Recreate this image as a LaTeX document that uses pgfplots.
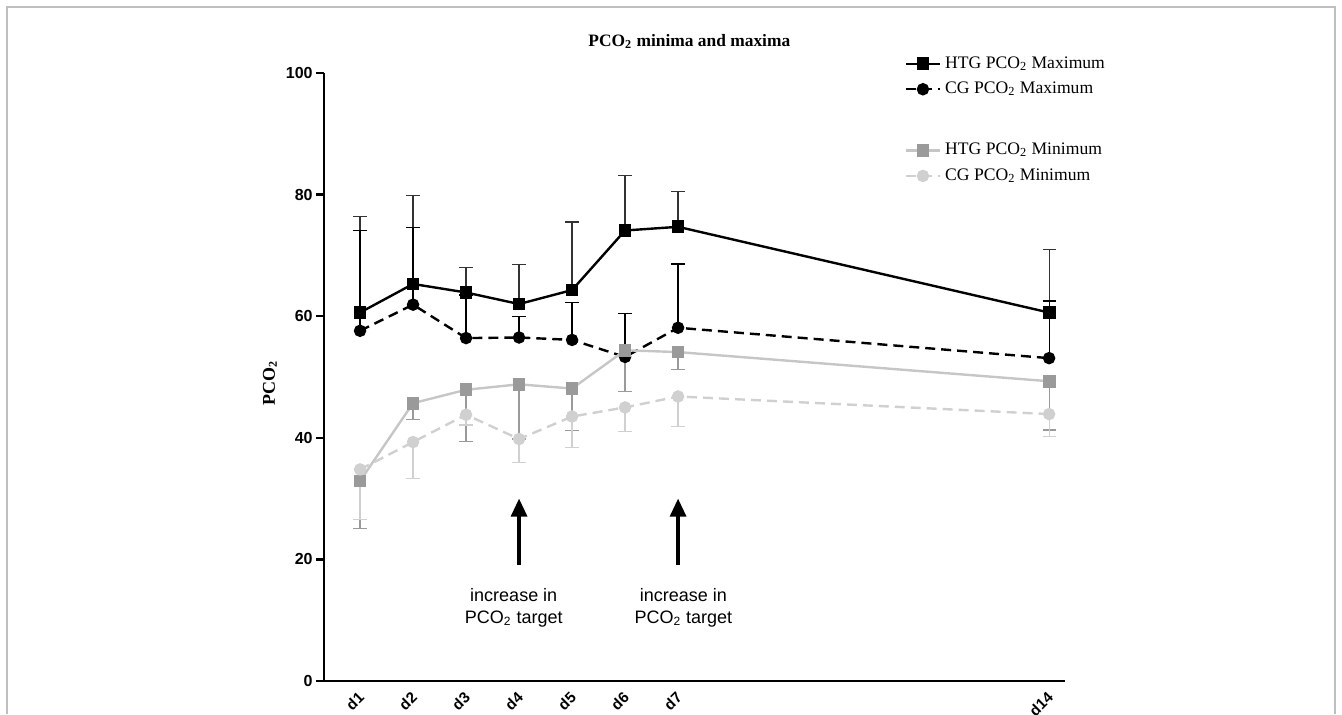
\documentclass[border=0pt]{standalone}
\usepackage{fontspec}
\setmainfont{Liberation Serif}
\setsansfont{Liberation Sans}
\usepackage{pgfplots}
\pgfplotsset{compat=1.18}
\usetikzlibrary{arrows.meta}
\definecolor{minhtg}{HTML}{9A9A9A}
\definecolor{minhtgline}{HTML}{C6C6C6}
\definecolor{mincg}{HTML}{D0D0D0}
\begin{document}
\begin{tikzpicture}
\useasboundingbox (0,0) rectangle (671pt,357pt);
\draw[gray!50, line width=0.6pt] (3.5pt,0) -- (3.5pt,353.5pt) -- (667.5pt,353.5pt) -- (667.5pt,0);
\begin{axis}[
    at={(162pt,16.5pt)}, anchor=south west,
    width=370.5pt, height=304pt, scale only axis,
    xmin=0.32, xmax=14.3, ymin=0, ymax=100,
    axis lines=left,
    axis line style={line width=1.4pt, -},
    clip=false,
    xtick={1,2,3,4,5,6,7,14},
    xticklabels={d1,d2,d3,d4,d5,d6,d7,d14},
    xtick style={draw=none},
    ytick={0,20,40,60,80,100},
    ytick style={line width=1.2pt, black},
    tick align=outside,
    major tick length=4pt,
    /pgf/number format/assume math mode=true,
    ticklabel style={font=\sffamily\bfseries\fontsize{8}{9}\selectfont},
    xticklabel style={rotate=45, anchor=north east, inner sep=0.5pt,
        font=\sffamily\bfseries\fontsize{7.6}{9}\selectfont, xshift=-1pt, yshift=1pt},
    yticklabel style={inner sep=1.5pt},
    legend style={at={(rel axis cs:0.775,1.041)}, anchor=north west,
        draw=none, fill=none, font=\fontsize{8.8}{10}\selectfont,
        row sep=1.4pt},
    legend cell align=left,
]
\addplot[black, line width=1.2pt, mark=square*, mark size=2.6pt,
    error bars/.cd, y dir=plus, y explicit,
    error bar style={line width=0.6pt, black!80},
    error mark options={rotate=90, mark size=3.3pt, line width=0.6pt, black!80}]
coordinates {
    (1,60.6) +- (0,15.8)
    (2,65.3) +- (0,14.5)
    (3,63.9) +- (0,4.1)
    (4,62.0) +- (0,6.5)
    (5,64.3) +- (0,11.2)
    (6,74.1) +- (0,9.0)
    (7,74.7) +- (0,5.8)
    (14,60.6) +- (0,10.4)
};
\addlegendentry{HTG PCO\textsubscript{2} Maximum}
\addplot[black, line width=1.2pt, dash pattern=on 5pt off 3pt,
    mark=*, mark size=2.5pt, mark options={solid},
    error bars/.cd, y dir=plus, y explicit,
    error bar style={line width=0.6pt, solid, black},
    error mark options={rotate=90, mark size=3.3pt, line width=0.6pt, solid, black}]
coordinates {
    (1,57.6) +- (0,16.5)
    (2,61.9) +- (0,12.7)
    (3,56.4) +- (0,7.1)
    (4,56.5) +- (0,3.5)
    (5,56.1) +- (0,6.2)
    (6,53.3) +- (0,7.1)
    (7,58.1) +- (0,10.5)
    (14,53.1) +- (0,9.4)
};
\addlegendentry{CG PCO\textsubscript{2} Maximum}
\addlegendimage{empty legend}
\addlegendentry{\rule{0pt}{11pt}}
\addplot[minhtgline, line width=1.2pt, mark=square*, mark size=2.6pt,
    mark options={fill=minhtg, draw=minhtg},
    error bars/.cd, y dir=minus, y explicit,
    error bar style={line width=0.6pt, minhtg},
    error mark options={rotate=90, mark size=3.3pt, line width=0.6pt, minhtg}]
coordinates {
    (1,32.9) +- (0,7.8)
    (2,45.7) +- (0,2.7)
    (3,47.9) +- (0,8.5)
    (4,48.8) +- (0,9.0)
    (5,48.1) +- (0,6.9)
    (6,54.4) +- (0,6.8)
    (7,54.1) +- (0,2.8)
    (14,49.3) +- (0,8.0)
};
\addlegendentry{HTG PCO\textsubscript{2} Minimum}
\addplot[mincg, line width=1.2pt, dash pattern=on 5pt off 3pt,
    mark=*, mark size=2.5pt, mark options={solid, fill=mincg, draw=mincg},
    error bars/.cd, y dir=minus, y explicit,
    error bar style={line width=0.6pt, solid, mincg},
    error mark options={rotate=90, mark size=3.3pt, line width=0.6pt, solid, mincg}]
coordinates {
    (1,34.8) +- (0,8.2)
    (2,39.3) +- (0,6.0)
    (3,43.8) +- (0,1.7)
    (4,39.8) +- (0,3.9)
    (5,43.5) +- (0,5.1)
    (6,45.0) +- (0,3.9)
    (7,46.8) +- (0,5.0)
    (14,43.9) +- (0,3.7)
};
\addlegendentry{CG PCO\textsubscript{2} Minimum}
\draw[-{Triangle[length=9pt,width=8pt]}, line width=1.6pt] (axis cs:4,19.1) -- (axis cs:4,30);
\draw[-{Triangle[length=9pt,width=8pt]}, line width=1.6pt] (axis cs:7,19.1) -- (axis cs:7,30);
\node[font=\sffamily\fontsize{9}{11}\selectfont, align=center] at (axis cs:3.9,12.0) {increase in\\PCO\textsubscript{2} target};
\node[font=\sffamily\fontsize{9}{11}\selectfont, align=center] at (axis cs:7.1,12.0) {increase in\\PCO\textsubscript{2} target};
\node[font=\bfseries\fontsize{8.7}{10}\selectfont, anchor=base] at (rel axis cs:0.493,1.043) {PCO\textsubscript{2} minima and maxima};
\node[font=\bfseries\fontsize{9}{10}\selectfont, rotate=90] at (rel axis cs:-0.073,0.49) {PCO\textsubscript{2}};
\end{axis}
\end{tikzpicture}
\end{document}
